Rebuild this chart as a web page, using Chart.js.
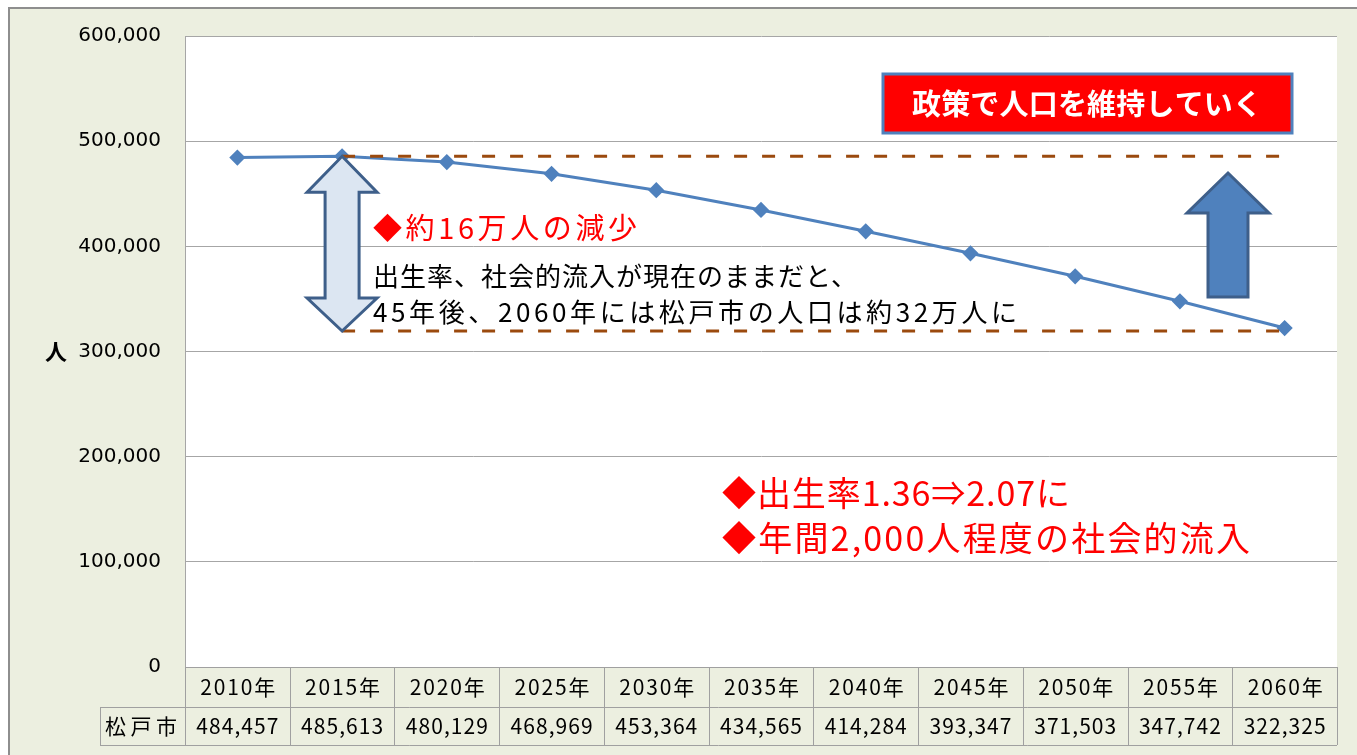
<!DOCTYPE html>
<html lang="ja">
<head>
<meta charset="utf-8">
<script src="https://cdn.jsdelivr.net/npm/chart.js@4"></script>
<style>
  body { margin: 0; background: #ffffff; }
  canvas { display: block; }
</style>
</head>
<body>
<canvas id="diagram" width="1357" height="755"></canvas>
<script>
// 年と人口（松戸市）
const years = ["2010年", "2015年", "2020年", "2025年", "2030年", "2035年", "2040年", "2045年", "2050年", "2055年", "2060年"];
const population = [484457, 485613, 480129, 468969, 453364, 434565, 414284, 393347, 371503, 347742, 322325];
const rowLabel = "松戸市";
const yTicks = [0, 100000, 200000, 300000, 400000, 500000, 600000];
const yTitle = "人";

const fmt = (v) => v.toLocaleString("en-US");
const JP = '"Noto Sans CJK JP", sans-serif';

// 幅に合わせて字間を調整して描く
function fitText(ctx, text, x, y, width) {
  ctx.letterSpacing = "0px";
  const w = ctx.measureText(text).width;
  const n = [...text].length;
  const s = n > 1 ? (width - w) / (n - 1) : 0;
  ctx.letterSpacing = s + "px";
  ctx.textAlign = "left";
  ctx.fillText(text, x, y);
  ctx.letterSpacing = "0px";
}

// 矢印（塗り・線）
function drawArrow(ctx, pts, fill, stroke) {
  ctx.beginPath();
  pts.forEach((p, i) => (i ? ctx.lineTo(p[0], p[1]) : ctx.moveTo(p[0], p[1])));
  ctx.closePath();
  ctx.fillStyle = fill;
  ctx.fill();
  ctx.lineWidth = 3;
  ctx.strokeStyle = stroke;
  ctx.lineJoin = "miter";
  ctx.stroke();
}

const pagePlugin = {
  id: "page",
  beforeDraw(chart) {
    const ctx = chart.ctx;
    const a = chart.chartArea;
    ctx.save();
    ctx.fillStyle = "#ECEFE0";
    ctx.fillRect(9, 8, chart.width - 9, chart.height - 8);
    ctx.strokeStyle = "#8E8E8E";
    ctx.lineWidth = 2;
    ctx.strokeRect(9, 8, chart.width + 10, chart.height + 10);
    ctx.fillStyle = "#ffffff";
    ctx.fillRect(a.left, a.top, a.right - a.left, a.bottom - a.top);
    // y軸タイトル
    ctx.fillStyle = "#000";
    ctx.font = "bold 22px " + JP;
    ctx.textAlign = "center";
    ctx.textBaseline = "middle";
    ctx.fillText(yTitle, 56, chart.scales.y.getPixelForValue(300000));
    ctx.restore();
  },
  afterDatasetsDraw(chart) {
    const ctx = chart.ctx;
    const x = chart.scales.x;
    const y = chart.scales.y;
    const a = chart.chartArea;
    const last = population.length - 1;
    const x15 = x.getPixelForValue(1);
    const xEnd = x.getPixelForValue(last);
    const yTop = y.getPixelForValue(population[1]);
    const yBot = y.getPixelForValue(population[last]);
    ctx.save();

    // 破線
    ctx.strokeStyle = "#9B4A0E";
    ctx.lineWidth = 3;
    ctx.setLineDash([13, 15]);
    ctx.beginPath();
    ctx.moveTo(x15, yTop);
    ctx.lineTo(xEnd, yTop);
    ctx.moveTo(x15, yBot + 3);
    ctx.lineTo(xEnd, yBot + 3);
    ctx.stroke();
    ctx.setLineDash([]);

    // 両方向矢印
    const t = yTop, b = yBot + 3;
    drawArrow(ctx, [
      [x15, t], [x15 + 35, t + 36], [x15 + 17, t + 36], [x15 + 17, b - 33],
      [x15 + 35, b - 33], [x15, b], [x15 - 35, b - 33], [x15 - 17, b - 33],
      [x15 - 17, t + 36], [x15 - 35, t + 36]
    ], "#DCE6F2", "#3E5F8A");

    // 上向き矢印
    const ux = a.right - 109, ut = 173, ub = 297;
    drawArrow(ctx, [
      [ux, ut], [ux + 41, ut + 40], [ux + 20, ut + 40], [ux + 20, ub],
      [ux - 20, ub], [ux - 20, ut + 40], [ux - 41, ut + 40]
    ], "#4F81BD", "#3E5F8A");

    // 赤い箱
    ctx.fillStyle = "#FF0000";
    ctx.fillRect(883, 74, 409, 59);
    ctx.strokeStyle = "#4F81BD";
    ctx.lineWidth = 3;
    ctx.strokeRect(883, 74, 409, 59);
    ctx.fillStyle = "#ffffff";
    ctx.font = "bold 29px " + JP;
    ctx.textBaseline = "middle";
    fitText(ctx, "政策で人口を維持していく", 912, 104, 350);

    // 文章
    ctx.fillStyle = "#FF0000";
    ctx.font = "29px " + JP;
    fitText(ctx, "◆約16万人の減少", 373, 228, 264);
    ctx.fillStyle = "#000000";
    ctx.font = "26px " + JP;
    fitText(ctx, "出生率、社会的流入が現在のままだと、", 373, 276, 484);
    fitText(ctx, "45年後、2060年には松戸市の人口は約32万人に", 373, 312, 644);
    ctx.fillStyle = "#FF0000";
    ctx.font = "34px " + JP;
    fitText(ctx, "◆出生率1.36⇒2.07に", 722, 493, 348);
    fitText(ctx, "◆年間2,000人程度の社会的流入", 722, 538, 528);
    ctx.restore();
  },
  afterDraw(chart) {
    // データテーブル
    const ctx = chart.ctx;
    const x = chart.scales.x;
    const a = chart.chartArea;
    const w = (a.right - a.left) / years.length;
    const r0 = a.bottom, r1 = a.bottom + 40, r2 = a.bottom + 78;
    ctx.save();
    ctx.strokeStyle = "#A0A0A0";
    ctx.lineWidth = 1;
    ctx.beginPath();
    ctx.moveTo(a.left, r0 + 0.5); ctx.lineTo(a.right, r0 + 0.5);
    ctx.moveTo(100, r1 + 0.5); ctx.lineTo(a.right, r1 + 0.5);
    ctx.moveTo(100, r2 + 0.5); ctx.lineTo(a.right, r2 + 0.5);
    ctx.moveTo(100.5, r1); ctx.lineTo(100.5, r2);
    for (let i = 0; i <= years.length; i++) {
      const px = Math.round(a.left + i * w) + 0.5;
      ctx.moveTo(px, r0); ctx.lineTo(px, r2);
    }
    ctx.stroke();
    ctx.fillStyle = "#000";
    ctx.textBaseline = "middle";
    ctx.font = "21px " + JP;
    years.forEach((yr, i) => {
      const cx = x.getPixelForValue(i);
      fitText(ctx, yr, cx - 37, (r0 + r1) / 2, 75);
      fitText(ctx, fmt(population[i]), cx - 41, (r1 + r2) / 2, 82);
    });
    fitText(ctx, rowLabel, 105, (r1 + r2) / 2, 72);
    ctx.restore();
  },
};

const data = {
  labels: years,
  datasets: [
    {
      label: rowLabel,
      data: population,
      borderColor: "#4F81BD",
      backgroundColor: "#4F81BD",
      borderWidth: 3,
      pointStyle: "rectRot",
      pointRadius: 6,
      tension: 0,
    },
  ],
};

const config = {
  type: "line",
  data: data,
  options: {
    responsive: false,
    animation: false,
    devicePixelRatio: 1,
    layout: { padding: { top: 36, right: 20, left: 0, bottom: 0 } },
    plugins: { legend: { display: false }, tooltip: { enabled: false } },
    scales: {
      x: {
        offset: true,
        ticks: { display: false },
        grid: { display: false },
        border: { display: false },
        afterFit: (s) => { s.height = 88; },
      },
      y: {
        min: 0,
        max: 600000,
        afterBuildTicks: (s) => { s.ticks = yTicks.map((v) => ({ value: v })); },
        ticks: {
          color: "#000",
          font: { family: "DejaVu Sans", size: 20 },
          padding: 24,
          callback: (v) => fmt(v),
        },
        grid: { color: "#A6A6A6", drawTicks: false },
        border: { color: "#A6A6A6" },
        afterFit: (s) => { s.width = 185; },
      },
    },
  },
  plugins: [pagePlugin],
};

const canvas = document.getElementById("diagram");
const chart = new Chart(canvas, config);
</script>
</body>
</html>
